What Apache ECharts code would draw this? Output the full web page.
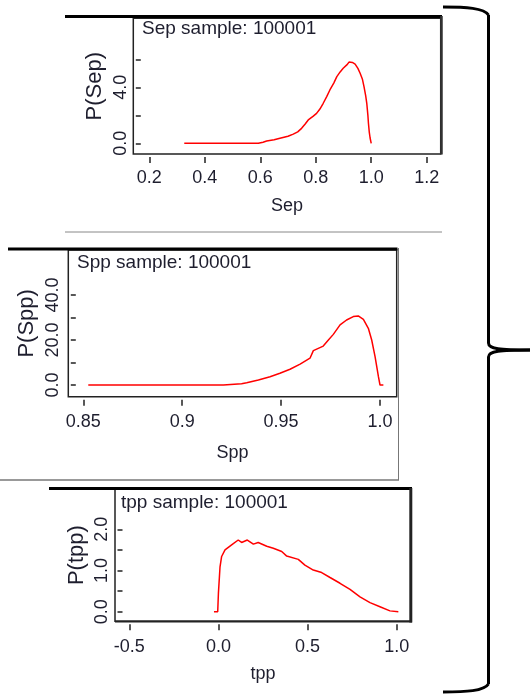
<!DOCTYPE html>
<html>
<head>
<meta charset="utf-8">
<script src="https://cdn.jsdelivr.net/npm/echarts@6/dist/echarts.min.js"></script>
<style>html,body{margin:0;padding:0;background:#fff;}#c{width:530px;height:696px;}</style>
</head>
<body>
<div id="c"></div>
<script>
// ---- data ----
const sepX = [0.326,0.40,0.50,0.593,0.61,0.623,0.65,0.671,0.70,0.719,0.735,0.749,0.762,0.773,0.79,0.803,0.815,0.827,0.84,0.851,0.865,0.876,0.888,0.899,0.912,0.92,0.926,0.932,0.942,0.952,0.960,0.968,0.974,0.980,0.984,0.988,0.990,0.993,0.996,1.0,1.0];
const sepY = [0,0,0,0,0.08,0.16,0.25,0.36,0.5,0.66,0.82,1.07,1.38,1.67,1.92,2.14,2.45,2.86,3.35,3.81,4.3,4.76,5.1,5.36,5.6,5.8,5.83,5.78,5.66,5.35,5.0,4.6,4.05,3.4,2.86,2.0,1.43,0.8,0.38,0.38,0];
const sppX = [0.8525,0.88,0.90,0.9208,0.921,0.93,0.9326,0.9385,0.9444,0.9494,0.9545,0.9596,0.9646,0.9663,0.9713,0.9739,0.9764,0.9798,0.9831,0.9865,0.9890,0.9916,0.9941,0.9958,0.9975,0.9992,1.0,1.0017];
const sppY = [0,0,0,0,0.5,0.6,1.0,2.2,3.7,5.2,7.0,9.3,11.9,15.3,17.3,20.0,22.5,26.7,28.9,30.4,30.7,29.2,25.2,20.0,12.6,3.7,0,0];
const tppX = [-0.025,-0.004,0.0,0.009,0.018,0.037,0.074,0.111,0.130,0.162,0.196,0.223,0.271,0.308,0.355,0.383,0.448,0.485,0.532,0.579,0.626,0.682,0.738,0.794,0.850,0.906,0.962,1.009];
const tppY = [0,0,0.45,1.09,1.34,1.50,1.62,1.74,1.68,1.74,1.64,1.68,1.59,1.54,1.46,1.35,1.27,1.13,1.01,0.95,0.83,0.69,0.54,0.36,0.22,0.12,0.02,0];

const titles = ['Sep sample: 100001', 'Spp sample: 100001', 'tpp sample: 100001'];
const xNames = ['Sep', 'Spp', 'tpp'];
const yNames = ['P(Sep)', 'P(Spp)', 'P(tpp)'];

const sepXTicks = [0.2,0.4,0.6,0.8,1.0,1.2];
const sepYTicks = [0,2,4,6];
const sepYLabels = [0,4];
const sppXTicks = [0.85,0.9,0.95,1.0];
const sppYTicks = [0,10,20,30,40];
const sppYLabels = [0,20,40];
const tppXTicks = [-0.5,0.0,0.5,1.0];
const tppYTicks = [0,0.5,1.0,1.5,2.0];
const tppYLabels = [0,1,2];

// ---- chart ----
const FONT = "'Liberation Sans', Arial, sans-serif";
const TXT = '#1e1e2e';
const zip = (a, b) => a.map((v, i) => [v, b[i]]);

const grids = [
  {left: 133.3, top: 18.3, width: 307.4, height: 135.7},
  {left: 68.3, top: 250, width: 328.4, height: 146.7},
  {left: 115, top: 489, width: 296, height: 132.3}
];
const xRanges = [[0.1423, 1.2505], [0.8424, 1.00844], [-0.580, 1.080]];
const yRanges = [[-0.764, 8.93], [-5.2, 60], [-0.233, 2.978]];
const xTicks = [sepXTicks, sppXTicks, tppXTicks];
const yTicks = [sepYTicks, sppYTicks, tppYTicks];
const yLabs = [sepYLabels, sppYLabels, tppYLabels];
const xFmt = [v => v.toFixed(1), v => (v === 1 ? '1.0' : String(v)), v => v.toFixed(1)];
const xNameGap = [40, 44, 41];
const xLabMargin = [12, 13, 14];
const yNameGap = [30, 33, 30];
const yLabMargin = [6, 9, 6];
const titlePos = [[142, 19.5], [77, 253.5], [121, 493.5]];

const braceStyle = {stroke: '#000', lineWidth: 3, fill: null};

const option = {
  animation: false,
  backgroundColor: '#fff',
  title: titles.map((t, i) => ({
    text: t, left: titlePos[i][0], top: titlePos[i][1], padding: 0,
    textStyle: {fontSize: 19, fontWeight: 'normal', fontFamily: FONT, color: TXT}
  })),
  grid: grids.map(g => Object.assign({
    show: true, borderColor: '#222', borderWidth: 1.5, backgroundColor: 'transparent',
    containLabel: false, outerBoundsMode: 'none'
  }, g)),
  xAxis: grids.map((g, i) => ({
    type: 'value', gridIndex: i, min: xRanges[i][0], max: xRanges[i][1],
    offset: 3,
    name: xNames[i], nameLocation: 'middle', nameGap: xNameGap[i], nameMoveOverlap: false,
    nameTextStyle: {fontSize: 18, fontFamily: FONT, color: TXT},
    axisLine: {show: false, onZero: false},
    axisTick: {show: true, inside: false, length: 6, customValues: xTicks[i], lineStyle: {color: '#222', width: 1.5}},
    axisLabel: {show: true, margin: xLabMargin[i], customValues: xTicks[i], formatter: xFmt[i],
      fontSize: 18, fontFamily: FONT, color: TXT},
    splitLine: {show: false}
  })),
  yAxis: grids.map((g, i) => ({
    type: 'value', gridIndex: i, min: yRanges[i][0], max: yRanges[i][1],
    offset: -2.5,
    name: yNames[i], nameLocation: 'middle', nameGap: yNameGap[i], nameRotate: 90, nameMoveOverlap: false,
    nameTextStyle: {fontSize: 22, fontFamily: FONT, color: TXT},
    axisLine: {show: false, onZero: false},
    axisTick: {show: true, inside: true, length: 5, customValues: yTicks[i], lineStyle: {color: '#222', width: 1.5}},
    axisLabel: {show: true, rotate: 90, margin: yLabMargin[i], customValues: yLabs[i],
      formatter: v => v.toFixed(1), fontSize: 18, fontFamily: FONT, color: TXT},
    splitLine: {show: false}
  })),
  series: [zip(sepX, sepY), zip(sppX, sppY), zip(tppX, tppY)].map((d, i) => ({
    type: 'line', xAxisIndex: i, yAxisIndex: i, data: d,
    showSymbol: false, symbol: 'none', silent: true,
    lineStyle: {color: '#ff0000', width: 1.5}
  })),
  graphic: [
    // panel 1 frame
    {type: 'line', shape: {x1: 65, y1: 16.5, x2: 442, y2: 16.5}, style: {stroke: '#000', lineWidth: 3}},
    {type: 'line', shape: {x1: 441.5, y1: 16, x2: 441.5, y2: 154.5}, style: {stroke: '#333', lineWidth: 2.5}},
    {type: 'line', shape: {x1: 65, y1: 232, x2: 442, y2: 232}, style: {stroke: '#888', lineWidth: 1}},
    // panel 2 frame
    {type: 'line', shape: {x1: 8, y1: 249, x2: 397.5, y2: 249}, style: {stroke: '#000', lineWidth: 3}},
    {type: 'line', shape: {x1: 398.5, y1: 248, x2: 398.5, y2: 480}, style: {stroke: '#777', lineWidth: 1}},
    {type: 'line', shape: {x1: 0, y1: 480, x2: 399, y2: 480}, style: {stroke: '#777', lineWidth: 1.5}},
    // panel 3 frame
    {type: 'line', shape: {x1: 49, y1: 488.5, x2: 412, y2: 488.5}, style: {stroke: '#000', lineWidth: 3}},
    {type: 'line', shape: {x1: 410.8, y1: 488, x2: 410.8, y2: 622.5}, style: {stroke: '#222', lineWidth: 3}},
    {type: 'line', shape: {x1: 115, y1: 621.5, x2: 412, y2: 621.5}, style: {stroke: '#222', lineWidth: 2}},
    // curly brace
    {type: 'bezierCurve', shape: {x1: 443, y1: 7, cpx1: 466, cpy1: 7, cpx2: 484, cpy2: 8, x2: 488.5, y2: 15}, style: braceStyle},
    {type: 'line', shape: {x1: 488.5, y1: 15, x2: 488.5, y2: 343}, style: braceStyle},
    {type: 'bezierCurve', shape: {x1: 488.5, y1: 343, cpx1: 488.5, cpy1: 349, cpx2: 500, cpy2: 350, x2: 530, y2: 350}, style: braceStyle},
    {type: 'bezierCurve', shape: {x1: 530, y1: 350, cpx1: 500, cpy1: 350, cpx2: 488.5, cpy2: 351, x2: 488.5, y2: 357}, style: braceStyle},
    {type: 'line', shape: {x1: 488.5, y1: 357, x2: 488.5, y2: 684}, style: braceStyle},
    {type: 'bezierCurve', shape: {x1: 488.5, y1: 684, cpx1: 484, cpy1: 691, cpx2: 466, cpy2: 692, x2: 443, y2: 692}, style: braceStyle}
  ]
};

const chart = echarts.init(document.getElementById('c'), null, {renderer: 'canvas', width: 530, height: 696});
chart.setOption(option);
</script>
</body>
</html>
